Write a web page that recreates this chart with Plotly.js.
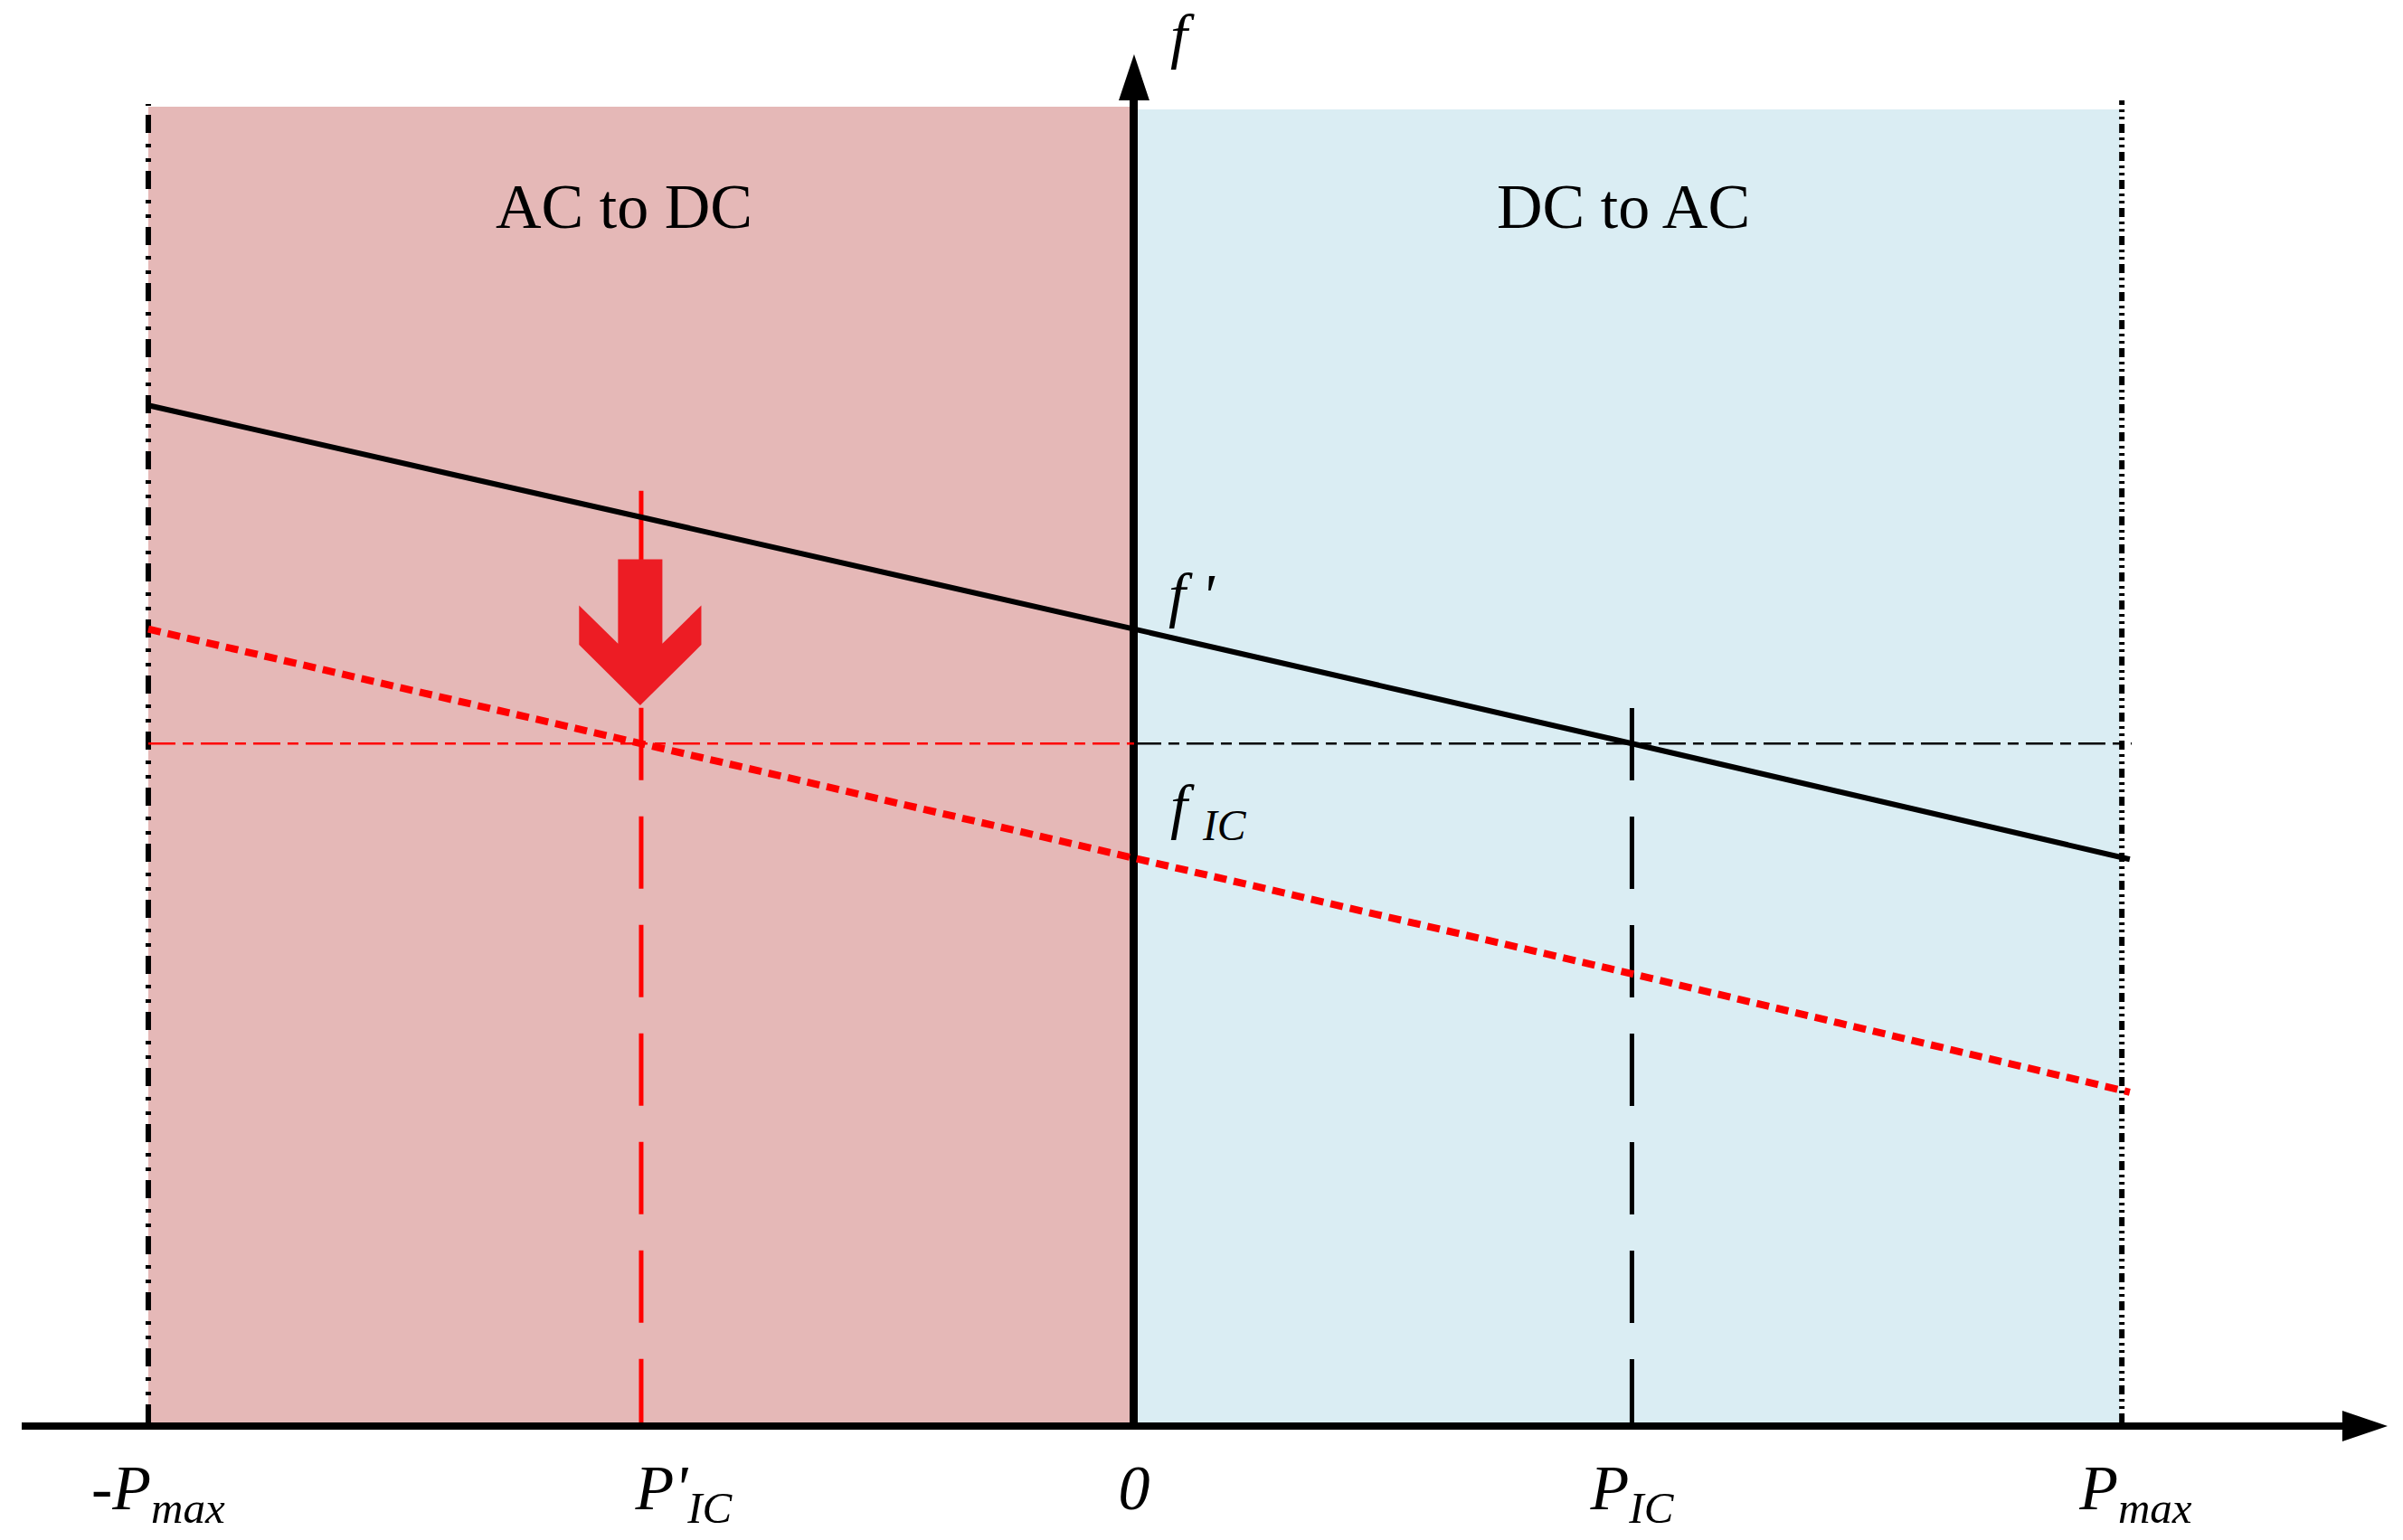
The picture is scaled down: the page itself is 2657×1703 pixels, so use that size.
<!DOCTYPE html>
<html>
<head>
<meta charset="utf-8">
<script src="https://cdn.plot.ly/plotly-3.0.1.min.js"></script>
<style>
  html, body { margin: 0; padding: 0; background: #fff; }
  #chart { width: 2657px; height: 1703px; }
</style>
</head>
<body>
<div id="chart"></div>
<script>
const SERIF = '"Liberation Serif", "Times New Roman", serif';

// power axis, normalised to P_max (label positions)
const pTicks = [-0.99, -0.457, 0, 0.505, 1.016];
const pTickText = ['-P<sub>max</sub>', "P'<sub>IC</sub>", '0', 'P<sub>IC</sub>', 'P<sub>max</sub>'];

// droop characteristics f(P)
const droopP = [-1, -0.5, 0, 0.505, 1.01];
const fPrime = [0.773, 0.688, 0.603, 0.516, 0.428];
const fIc = [0.603, 0.516, 0.429, 0.341, 0.251];

// reference frequency and operating points
const fRef = 0.516;
const refLineP = [-1, 0, 1.012];
const pIcPrime = -0.5;
const pIc = 0.505;
const pMax = 1.002;
const pIcPrimeTop = 0.708;
const pIcTop = 0.543;

// shaded regions
const regionP = [[-1, 0], [0, 1]];
const regionTop = [1.0, 0.998];
const regionColors = ['#e5b8b7', '#daedf3'];
const regionLabels = ['AC to DC', 'DC to AC'];
const regionLabelP = [-0.517, 0.496];
const regionLabelF = 0.924;

const xRange = [-1.1284, 1.2303];
const yRange = [0, 1.0048];
const paperX = x => (x - xRange[0]) / (xRange[1] - xRange[0]);

const traces = [
  {
    x: [-1, -1], y: [0, 1.002], mode: 'lines', hoverinfo: 'skip',
    line: { color: '#000', width: 6, dash: '20px,10px,4px,12px,4px,12px' },
  },
  {
    x: [pMax, pMax], y: [0, 1.012], mode: 'lines', hoverinfo: 'skip',
    line: { color: '#000', width: 6, dash: '10px,5px,3px,5px,3px,5px' },
  },
  {
    x: refLineP.slice(0, 2), y: [fRef, fRef], mode: 'lines', hoverinfo: 'skip',
    line: { color: '#ff0000', width: 2.5, dash: '30px,8px,12px,8px' },
  },
  {
    x: refLineP.slice(1), y: [fRef, fRef], mode: 'lines', hoverinfo: 'skip',
    line: { color: '#000', width: 2.5, dash: '30px,8px,12px,8px' },
  },
  {
    x: [pIcPrime, pIcPrime], y: [pIcPrimeTop, 0], mode: 'lines', hoverinfo: 'skip',
    line: { color: '#ff0000', width: 5, dash: '80px,40px' },
  },
  {
    x: [pIc, pIc], y: [pIcTop, 0], mode: 'lines', hoverinfo: 'skip',
    line: { color: '#000', width: 5, dash: '80px,40px' },
  },
  {
    x: droopP, y: fPrime, mode: 'lines', name: "f'",
    line: { color: '#000', width: 6 },
  },
  {
    x: droopP, y: fIc, mode: 'lines', name: 'f_IC',
    line: { color: '#ff0000', width: 8, dash: '14px,8px' },
  },
];

// block arrow showing the downward shift of the droop curve
const arrowHalfShaft = 0.0225, arrowHalfHead = 0.062;
const arrowTop = 0.656, arrowNeck = 0.592, arrowWingTop = 0.621, arrowWingBot = 0.591, arrowTip = 0.545;
const ax0 = pIcPrime - 0.001;
const arrowPath = [
  [ax0 - arrowHalfShaft, arrowTop], [ax0 + arrowHalfShaft, arrowTop], [ax0 + arrowHalfShaft, arrowNeck],
  [ax0 + arrowHalfHead, arrowWingTop], [ax0 + arrowHalfHead, arrowWingBot], [ax0, arrowTip],
  [ax0 - arrowHalfHead, arrowWingBot], [ax0 - arrowHalfHead, arrowWingTop], [ax0 - arrowHalfShaft, arrowNeck],
].map((p, i) => `${i ? 'L' : 'M'}${p[0]},${p[1]}`).join(' ') + ' Z';

const shapes = regionP.map((r, i) => ({
  type: 'rect', xref: 'x', yref: 'y', x0: r[0], x1: r[1], y0: 0, y1: regionTop[i],
  fillcolor: regionColors[i], line: { width: 0 }, layer: 'below',
}));
shapes.push({
  type: 'path', xref: 'x', yref: 'y', path: arrowPath,
  fillcolor: '#ed1c24', line: { width: 0 }, layer: 'above',
});
// axis arrowheads
const yAx = paperX(0);
shapes.push({
  type: 'path', xref: 'paper', yref: 'paper',
  path: `M${yAx - 0.0066},1 L${yAx + 0.0066},1 L${yAx},1.0349 Z`,
  fillcolor: '#000', line: { width: 0 },
});
shapes.push({
  type: 'path', xref: 'paper', yref: 'paper',
  path: 'M0.998,0.0089 L0.998,-0.0143 L1.0175,-0.0027 Z',
  fillcolor: '#000', line: { width: 0 },
});

const annotations = regionLabels.map((t, i) => ({
  x: regionLabelP[i], y: regionLabelF, xref: 'x', yref: 'y', text: t, showarrow: false,
  font: { family: SERIF, size: 70, color: '#000' },
}));
annotations.push(
  { x: 0.035, y: 1.076, xref: 'x', yref: 'paper', text: 'f', showarrow: false, xanchor: 'left',
    font: { family: SERIF, size: 68, color: '#000', style: 'italic' } },
  { x: 0.033, y: 0.629, xref: 'x', yref: 'y', text: "f '", showarrow: false, xanchor: 'left',
    font: { family: SERIF, size: 68, color: '#000', style: 'italic' } },
  { x: 0.035, y: 0.465, xref: 'x', yref: 'y', text: 'f <sub>IC</sub>', showarrow: false, xanchor: 'left',
    font: { family: SERIF, size: 68, color: '#000', style: 'italic' } },
);

const layout = {
  width: 2657,
  height: 1703,
  margin: { l: 24, r: 62, t: 111, b: 130 },
  paper_bgcolor: '#fff',
  plot_bgcolor: '#fff',
  showlegend: false,
  xaxis: {
    range: xRange, showgrid: false,
    zeroline: true, zerolinecolor: '#000', zerolinewidth: 9,
    showline: true, linecolor: '#000', linewidth: 8,
    ticks: '', tickvals: pTicks, ticktext: pTickText,
    tickfont: { family: SERIF, size: 70, color: '#000', style: 'italic' },
    ticklabelstandoff: 4,
  },
  yaxis: {
    range: yRange, showgrid: false, zeroline: false, showline: false,
    showticklabels: false, ticks: '',
  },
  shapes,
  annotations,
};

Plotly.newPlot('chart', traces, layout, { displayModeBar: false, staticPlot: true });
</script>
</body>
</html>
